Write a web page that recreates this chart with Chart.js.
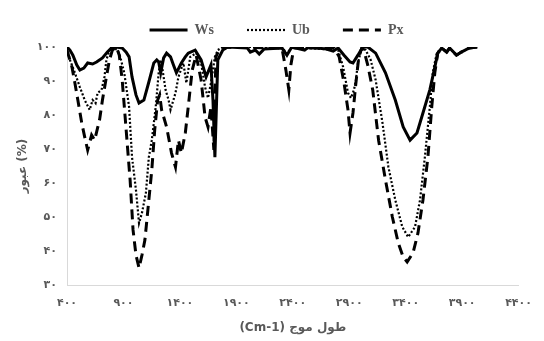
<!DOCTYPE html>
<html>
<head>
<meta charset="utf-8">
<script src="https://cdn.jsdelivr.net/npm/chart.js@4"></script>
<style>
  body { margin: 0; background: #fff; }
</style>
</head>
<body>
<canvas id="irChart" width="544" height="341"></canvas>
<script>
// wavenumber (cm-1) and transmittance (%)
var wsWave = [400,426,452,487,514,549,583,627,662,714,758,793,837,889,924,950,976,1011,1038,1081,1125,1169,1195,1212,1230,1256,1282,1317,1343,1369,1413,1448,1474,1535,1588,1632,1675,1693,1710,1728,1736,1780,1824,1998,2024,2068,2103,2147,2304,2348,2391,2505,2540,2697,2758,2802,2854,2907,2933,2977,3020,3064,3134,3221,3308,3378,3439,3500,3553,3614,3658,3684,3719,3763,3789,3850,3893,3963,4033];
var wsTrans = [100,99.1,97.6,94.7,93.2,93.8,95.3,95,95.6,96.8,98.5,99.7,100,99.7,98.5,97.1,91.2,85.9,83.5,84.4,89.7,95.3,96.2,95.6,92.4,96.8,98.2,97.1,94.7,92.4,95.3,97.1,98.2,99.1,96.2,91.2,94.7,84.4,67.6,87.4,96.2,99.1,100,99.7,98.5,99.1,97.9,99.4,99.7,97.6,100,99.1,100,99.4,98.8,99.7,97.6,95.6,95.3,97.6,100,100,98.2,92.4,84.4,76.5,72.6,74.7,80.6,87.4,94.1,98.2,99.7,98.5,99.7,97.6,98.5,99.7,100];

var ubWave = [400,426,470,514,557,601,627,653,671,706,732,749,776,819,863,907,950,976,1011,1038,1064,1099,1125,1151,1186,1212,1230,1247,1273,1300,1317,1361,1387,1431,1457,1492,1544,1588,1623,1649,1675,1710,1736,1780,2304,2348,2391,2802,2846,2889,2915,2942,2959,2977,3011,3046,3090,3134,3195,3247,3308,3370,3422,3483,3527,3570,3614,3640,3675,3719,3763,3789,3850,3893,3963,4033];
var ubTrans = [99.7,96.2,92.4,88.2,84.4,81.5,84.4,83.5,86.5,87.4,91.2,96.2,99.1,100,98.2,92.4,82.4,67.6,57.9,48.2,51.2,57.1,67.6,72.6,82.4,92.4,96.2,93.2,87.4,84.4,81.5,86.5,91.2,95.3,89.4,97.1,98.2,95.3,88.2,85,89.4,97.1,99.1,100,100,98,100,99.1,94.1,86.5,85,87.4,90.3,95.3,99.7,99.1,96.2,90.3,77.6,64.7,55,47.1,44.1,47.1,55,67.6,82.4,92.4,98.2,99.7,98.5,99.7,97.6,98.5,99.7,100];

var pxWave = [400,444,470,496,531,557,583,618,645,671,688,714,749,776,802,837,863,889,924,959,985,1011,1038,1064,1090,1125,1151,1177,1203,1221,1238,1282,1326,1361,1387,1413,1448,1474,1509,1544,1588,1623,1649,1675,1701,1719,1754,1780,2304,2339,2365,2383,2409,2767,2811,2854,2889,2907,2933,2959,2985,3011,3029,3064,3108,3160,3221,3282,3334,3378,3413,3465,3509,3553,3597,3631,3658,3684,3719,3763,3789,3850,3893,3963,4033];
var pxTrans = [99.1,94.1,89.4,84.4,77.6,73.5,69.7,74.1,72.6,76.2,78.5,84.4,91.2,96.2,99.1,100,97.6,90.3,75.6,60.9,46.2,38.8,35,38.8,43.2,55,63.8,75.6,84.4,85.9,81.5,76.5,68.8,64.7,72.6,68.8,74.7,82.4,93.2,97.6,90.3,79.4,76.5,82.4,69.7,97.1,99.7,100,99.7,93.2,87.4,94.7,99.7,99.7,97.1,89.4,81.5,74.7,80.6,89.4,97.1,99.7,99.1,94.7,87.4,72.6,60.9,50,42.4,38.2,36.8,39.4,45.3,55,67.6,82.4,92.4,98.2,99.7,98.5,99.7,97.6,98.5,99.7,100];

var xTicks = [400,900,1400,1900,2400,2900,3400,3900,4400];
var yTicks = [30,40,50,60,70,80,90,100];

function points(xs, ys) {
    var out = [];
    for (var i = 0; i < Math.min(xs.length, ys.length); i++) out.push({x: xs[i], y: ys[i]});
    return out;
}

function faDigits(v) {
    return String(v).replace(/\d/g, function(d) { return '۰۱۲۳۴۵۶۷۸۹'[d]; });
}

// keep the mixed latin/persian titles in left-to-right order
function ltr(s) {
    return '\u202A' + s + '\u202C';
}

var tickFont = {family: 'DejaVu Sans', size: 11, weight: 'bold'};
var grey = '#595959';

// nudge the legend row to the right, like the original
var legendShift = {
    id: 'legendShift',
    afterLayout: function(c) {
        c.legend.left += 14;
        c.legend.right += 14;
    }
};

var ctx = document.getElementById('irChart').getContext('2d');
var chart = new Chart(ctx, {
    type: 'line',
    data: {
        datasets: [{
            label: 'Ws',
            data: points(wsWave, wsTrans),
            borderColor: '#000',
            backgroundColor: '#000',
            borderWidth: 3
        }, {
            label: 'Ub',
            data: points(ubWave, ubTrans),
            borderColor: '#000',
            backgroundColor: '#000',
            borderWidth: 2.2,
            borderDash: [2, 2]
        }, {
            label: 'Px',
            data: points(pxWave, pxTrans),
            borderColor: '#000',
            backgroundColor: '#000',
            borderWidth: 3,
            borderDash: [10, 6]
        }]
    },
    plugins: [legendShift],
    options: {
        responsive: false,
        animation: false,
        layout: {padding: {top: 4, right: 19, left: 0, bottom: 0}},
        elements: {
            point: {radius: 0},
            line: {tension: 0, fill: false}
        },
        plugins: {
            tooltip: {enabled: false},
            legend: {
                position: 'top',
                labels: {
                    usePointStyle: true,
                    pointStyle: 'line',
                    pointStyleWidth: 38,
                    padding: 19,
                    color: grey,
                    font: {family: 'Liberation Serif', size: 14, weight: 'bold'},
                    generateLabels: function(c) {
                        var items = Chart.defaults.plugins.legend.labels.generateLabels(c);
                        items.forEach(function(it, i) {
                            var ds = c.data.datasets[i];
                            it.lineDash = ds.borderDash || [];
                            it.lineWidth = ds.borderWidth;
                            if (i < items.length - 1) it.text += '\u2003';
                        });
                        return items;
                    }
                }
            }
        },
        scales: {
            x: {
                type: 'linear',
                min: 400,
                max: 4400,
                afterBuildTicks: function(s) { s.ticks = xTicks.map(function(v) { return {value: v}; }); },
                afterFit: function(s) { s.height = 56; },
                grid: {display: false, drawTicks: false},
                border: {color: '#d9d9d9', width: 1},
                ticks: {
                    padding: 12,
                    color: grey,
                    font: tickFont,
                    maxRotation: 0,
                    callback: function(v) { return faDigits(v); }
                },
                title: {
                    display: true,
                    text: ltr('(Cm-1) طول موج'),
                    color: grey,
                    font: {family: 'DejaVu Sans', size: 12, weight: 'bold'},
                    padding: {top: 0, bottom: 6}
                }
            },
            y: {
                min: 30,
                max: 100,
                afterBuildTicks: function(s) { s.ticks = yTicks.map(function(v) { return {value: v}; }); },
                afterFit: function(s) { s.width = 67; },
                grid: {display: false, drawTicks: false},
                border: {color: '#d9d9d9', width: 1},
                ticks: {
                    padding: 10,
                    color: grey,
                    font: tickFont,
                    callback: function(v) { return faDigits(v); }
                },
                title: {
                    display: true,
                    text: ltr('عبور (%)'),
                    color: grey,
                    font: {family: 'DejaVu Sans', size: 12, weight: 'bold'},
                    padding: {top: 16, bottom: 0}
                }
            }
        }
    }
});
</script>
</body>
</html>
